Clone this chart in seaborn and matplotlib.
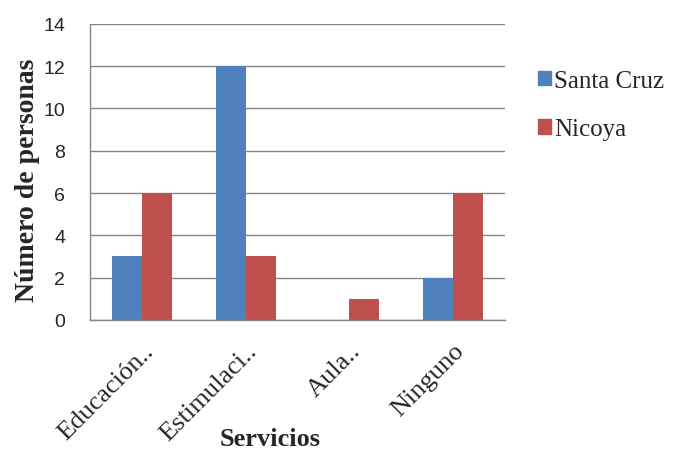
import pandas as pd
import matplotlib
matplotlib.use("Agg")
import matplotlib.pyplot as plt
import seaborn as sns

# data
servicios = ["Educación..", "Estimulaci..", "Aula..", "Ninguno"]
santa_cruz = [3, 12, 0, 2]
nicoya = [6, 3, 1, 6]
series = ["Santa Cruz", "Nicoya"]
colores = ["#4F81BD", "#C0504D"]
y_ticks = [0, 2, 4, 6, 8, 10, 12, 14]


def build_frame():
    df = pd.DataFrame({
        "servicio": servicios * 2,
        "personas": santa_cruz + nicoya,
        "zona": [series[0]] * len(servicios) + [series[1]] * len(servicios),
    })
    return df


def draw(df):
    sns.set_style("white")
    plt.rcParams["font.family"] = ["Liberation Serif", "DejaVu Serif"]

    fig = plt.figure(figsize=(6.73, 4.52), dpi=100)
    ax = fig.add_axes([0.134, 0.290, 0.616, 0.655])

    sns.barplot(
        data=df, x="servicio", y="personas", hue="zona",
        palette=colores, width=0.58, saturation=1, ax=ax,
        order=servicios, hue_order=series, legend=False, linewidth=0,
    )

    ax.set_ylim(0, 14)
    ax.set_yticks(y_ticks)
    ax.set_yticklabels([str(t) for t in y_ticks], family="Liberation Sans",
                       fontsize=14)
    ax.yaxis.grid(True, color="#868686", linewidth=1)
    ax.set_axisbelow(True)
    ax.tick_params(axis="y", length=8, color="#868686", pad=10)
    ax.tick_params(axis="x", length=0, pad=14)

    # rotated labels, right end sitting under the category centre
    for lab in ax.get_xticklabels():
        lab.set_rotation(45)
        lab.set_ha("right")
        lab.set_rotation_mode("anchor")
        lab.set_fontsize(19)

    for s in ["top", "right"]:
        ax.spines[s].set_visible(False)
    for s in ["left", "bottom"]:
        ax.spines[s].set_color("#868686")
        ax.spines[s].set_linewidth(1)

    ax.set_xlabel("Servicios", fontsize=19, fontweight="bold", va="top")
    ax.xaxis.set_label_coords(0.434, -0.362)
    ax.set_ylabel("Número de personas", fontsize=20, fontweight="bold")
    ax.yaxis.set_label_coords(-0.12, 0.476)

    handles = [plt.Rectangle((0, 0), 1, 1, color=c) for c in colores]
    fig.legend(handles, series, loc="upper left",
               bbox_to_anchor=(0.785, 0.865), frameon=False, fontsize=18,
               handlelength=0.52, handleheight=0.52, handletextpad=0.12,
               labelspacing=1.05, borderaxespad=0)

    fig.savefig("out.png", dpi=100)


def main():
    df = build_frame()
    draw(df)


if __name__ == "__main__":
    main()
